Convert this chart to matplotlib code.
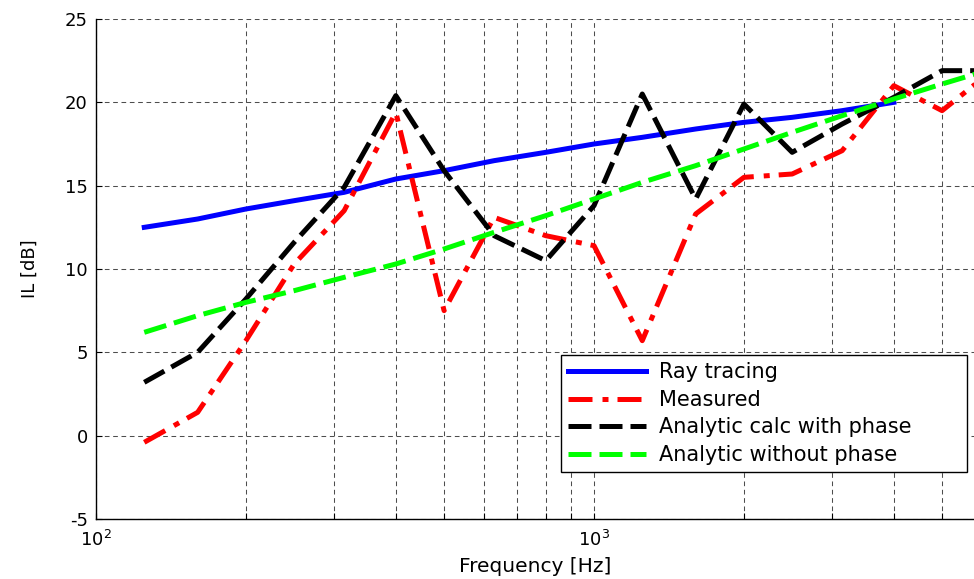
"""
plot.py, insertion loss vs frequency: ray tracing, measurement and two analytic calcs.
"""
import numpy as np
import matplotlib
matplotlib.use("Agg")
import matplotlib.pyplot as plt
from matplotlib.ticker import LogLocator, NullFormatter

plt.rcParams["axes.unicode_minus"] = False

# 1/3-octave band centres (Hz)
FREQ = [125, 160, 200, 250, 315, 400, 500, 630, 800, 1000,
        1250, 1600, 2000, 2500, 3150, 4000, 5000, 6300]

RAY_FREQ = FREQ[:16]     # ray tracing stops at 4 kHz
ray      = [12.5, 13.0, 13.6, 14.1, 14.6, 15.4, 15.9, 16.5, 17.0, 17.5,
            17.9, 18.4, 18.8, 19.1, 19.5, 20.0]
measured = [-0.4, 1.4, 5.7, 10.3, 13.5, 19.4, 7.5, 13.1, 12.0, 11.4,
            5.7, 13.3, 15.5, 15.7, 17.1, 21.0, 19.5, 21.9]
an_phase = [3.2, 5.0, 8.2, 11.6, 14.9, 20.4, 15.9, 12.0, 10.5, 13.8,
            20.5, 14.2, 19.9, 17.0, 18.7, 20.3, 21.9, 21.9]
an_nophs = [6.2, 7.2, 8.0, 8.7, 9.5, 10.3, 11.2, 12.2, 13.2, 14.2,
            15.2, 16.2, 17.2, 18.2, 19.2, 20.2, 21.1, 22.0]

LABELS = ["Ray tracing", "Measured", "Analytic calc with phase",
          "Analytic without phase"]

W, H = 974, 579
LW   = 3.6

fig = plt.figure(figsize=(W / 100, H / 100), dpi=100)
ax  = fig.add_axes([96 / W, 60 / H, 878 / W, 500 / H])

ax.plot(RAY_FREQ, ray, color="#0000ff", lw=LW, ls="-", label=LABELS[0])
ax.plot(FREQ, measured, color="#ff0000", lw=LW,
        ls=(0, (4.8, 2.0, 1.2, 1.8)), label=LABELS[1])
ax.plot(FREQ, an_phase, color="black", lw=LW,
        ls=(0, (4.6, 1.6)), label=LABELS[2])
ax.plot(FREQ, an_nophs, color="#00ff00", lw=LW,
        ls=(0, (4.6, 1.6)), label=LABELS[3])

ax.set_xscale("log")
ax.set_xlim(100, 10 ** (2 + 878 / 498))
ax.set_ylim(-5, 25)
ax.set_yticks(np.arange(-5, 26, 5))
ax.xaxis.set_minor_locator(LogLocator(base=10, subs=np.arange(2, 10)))
ax.xaxis.set_minor_formatter(NullFormatter())

ax.tick_params(axis="both", which="both", direction="in", labelsize=13,
               width=0.8, color="black")
ax.tick_params(axis="both", which="major", length=4)
ax.tick_params(axis="x", which="minor", length=4)
ax.tick_params(axis="y", pad=6)
ax.tick_params(axis="x", pad=8)

grid_kw = dict(color="0.3", lw=0.75, ls=(0, (4.5, 3.5)))
ax.grid(True, which="major", axis="both", **grid_kw)
ax.grid(True, which="minor", axis="x", **grid_kw)

for side in ("top", "right"):
    ax.spines[side].set_visible(False)
for side in ("left", "bottom"):
    ax.spines[side].set_linewidth(1.0)
    ax.spines[side].set_color("black")

ax.set_xlabel("Frequency [Hz]", fontsize=14.5, labelpad=5)
ax.set_ylabel("IL [dB]", fontsize=13, labelpad=19)

leg = ax.legend(loc="upper left", bbox_to_anchor=(0.5296, 0.328, 0.4624, 0.0),
                mode="expand", borderaxespad=0, fontsize=15,
                handlelength=3.75, handletextpad=0.6, borderpad=0.35,
                labelspacing=0.36, fancybox=False, framealpha=1,
                edgecolor="black")
leg.get_frame().set_linewidth(1.0)

fig.savefig("out.png", dpi=100)
plt.close(fig)
